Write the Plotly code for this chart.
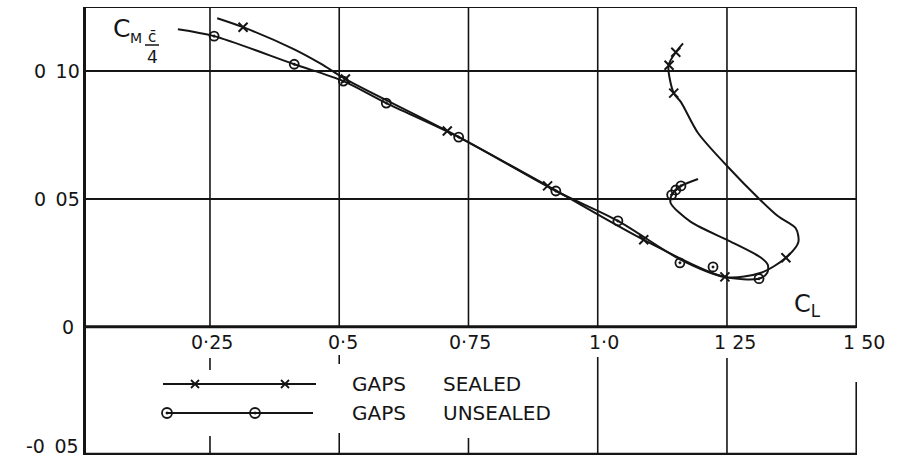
import plotly.graph_objects as go

# ---------------- data ----------------
# Gaps sealed: marked test points
sealed_cl = [0.314, 0.512, 0.709, 0.903, 1.089, 1.246, 1.364, 1.147, 1.138, 1.151]
sealed_cm = [0.1172, 0.0969, 0.0766, 0.0551, 0.0340, 0.0195, 0.0270, 0.0914, 0.1023, 0.1074]
# Gaps sealed: faired curve
sealed_curve_cl = [0.264, 0.314, 0.411, 0.465, 0.512, 0.709, 0.903, 1.089, 1.246, 1.316, 1.364,
                   1.388, 1.383, 1.349, 1.314, 1.252, 1.194, 1.161, 1.147, 1.137, 1.151, 1.165]
sealed_curve_cm = [0.1207, 0.1172, 0.1087, 0.1028, 0.0969, 0.0766, 0.0551, 0.0340, 0.0195, 0.0211, 0.0270,
                   0.0330, 0.0385, 0.0432, 0.0497, 0.0625, 0.0758, 0.0879, 0.0914, 0.1023, 0.1074, 0.1109]

# Gaps unsealed: marked test points
unsealed_cl = [0.258, 0.413, 0.508, 0.591, 0.731, 0.919, 1.039, 1.159, 1.223, 1.312, 1.143, 1.151, 1.161]
unsealed_cm = [0.1137, 0.1027, 0.0961, 0.0875, 0.0742, 0.0531, 0.0414, 0.0250, 0.0234, 0.0188,
               0.0516, 0.0535, 0.0551]
# Gaps unsealed: faired curve
unsealed_curve_cl = [0.188, 0.258, 0.413, 0.508, 0.591, 0.731, 0.919, 1.039, 1.159, 1.246, 1.312,
                     1.328, 1.329, 1.316, 1.258, 1.180, 1.141, 1.143, 1.151, 1.161, 1.194]
unsealed_curve_cm = [0.1164, 0.1137, 0.1027, 0.0961, 0.0875, 0.0742, 0.0531, 0.0414, 0.0264, 0.0194, 0.0188,
                     0.0211, 0.0242, 0.0270, 0.0332, 0.0410, 0.0484, 0.0516, 0.0535, 0.0551, 0.0578]

x_ticks = [0.25, 0.5, 0.75, 1.0, 1.25, 1.5]
x_tick_text = ["0·25", "0·5", "0·75", "1·0", "1 25", "1 50"]
y_ticks = [-0.05, 0, 0.05, 0.10]
y_tick_text = ["-0\u200205", "0", "0\u200205", "0\u200210"]

series_names = ["GAPS", "SEALED", "UNSEALED"]

# ---------------- layout geometry ----------------
W, H = 901, 459
L, R, T, B = 86, 44, 7, 4
X_RANGE = [0.0102, 1.5015]
Y_RANGE = [-0.0502, 0.1251]
INK = "#151515"
FONT = "DejaVu Sans"
PW, PH = W - L - R, H - T - B

def px2x(px):
    return X_RANGE[0] + (px - L) / PW * (X_RANGE[1] - X_RANGE[0])

def py2y(py):
    return Y_RANGE[1] - (py - T) / PH * (Y_RANGE[1] - Y_RANGE[0])

def px2p(px):
    return (px - L) / PW

def py2p(py):
    return 1 - (py - T) / PH

def y2py(yv):
    return T + (Y_RANGE[1] - yv) / (Y_RANGE[1] - Y_RANGE[0]) * PH

fig = go.Figure()

# curves
fig.add_trace(go.Scatter(x=sealed_curve_cl, y=sealed_curve_cm, mode="lines",
                         line=dict(color=INK, width=2, shape="spline", smoothing=0.8),
                         showlegend=False, hoverinfo="skip"))
fig.add_trace(go.Scatter(x=unsealed_curve_cl, y=unsealed_curve_cm, mode="lines",
                         line=dict(color=INK, width=2, shape="spline", smoothing=0.8),
                         showlegend=False, hoverinfo="skip"))
# markers
fig.add_trace(go.Scatter(x=sealed_cl, y=sealed_cm, mode="markers", name="GAPS SEALED",
                         marker=dict(symbol="x-thin-open", size=9, color=INK,
                                     line=dict(color=INK, width=2)),
                         showlegend=False))
fig.add_trace(go.Scatter(x=unsealed_cl, y=unsealed_cm, mode="markers", name="GAPS UNSEALED",
                         marker=dict(symbol="circle-open-dot", size=9, color=INK,
                                     line=dict(color=INK, width=1.8)),
                         showlegend=False))

# hand-drawn style legend in the lower panel
leg_sealed_y = py2y(384)
leg_unsealed_y = py2y(413)
fig.add_trace(go.Scatter(x=[px2x(163), px2x(316)], y=[leg_sealed_y] * 2, mode="lines",
                         line=dict(color=INK, width=1.8), showlegend=False, hoverinfo="skip"))
fig.add_trace(go.Scatter(x=[px2x(195), px2x(285)], y=[leg_sealed_y] * 2, mode="markers",
                         marker=dict(symbol="x-thin-open", size=8, color=INK,
                                     line=dict(color=INK, width=1.8)),
                         showlegend=False, hoverinfo="skip"))
fig.add_trace(go.Scatter(x=[px2x(167), px2x(313)], y=[leg_unsealed_y] * 2, mode="lines",
                         line=dict(color=INK, width=1.8), showlegend=False, hoverinfo="skip"))
fig.add_trace(go.Scatter(x=[px2x(167), px2x(255)], y=[leg_unsealed_y] * 2, mode="markers",
                         marker=dict(symbol="circle-open-dot", size=10, color=INK,
                                     line=dict(color=INK, width=1.8)),
                         showlegend=False, hoverinfo="skip"))

shapes = []
# vertical grid lines above the zero line
for xv in x_ticks:
    shapes.append(dict(type="line", x0=xv, x1=xv, y0=0, y1=Y_RANGE[1], xref="x", yref="y",
                       line=dict(color=INK, width=1.6)))
# broken vertical lines below the zero line (pixel y extents)
lower_segments = {
    0.25: [(358, 370), (436, 455)],
    0.5: [(355, 364), (433, 455)],
    0.75: [(438, 455)],
    1.0: [(357, 455)],
    1.25: [(358, 455)],
    1.5: [(382, 455)],
}
for xv, segs in lower_segments.items():
    for a, b in segs:
        shapes.append(dict(type="line", x0=xv, x1=xv, y0=py2y(a), y1=py2y(b), xref="x", yref="y",
                           line=dict(color=INK, width=1.6)))
# top border
shapes.append(dict(type="line", x0=X_RANGE[0], x1=1.5, y0=Y_RANGE[1], y1=Y_RANGE[1],
                   xref="x", yref="y", line=dict(color=INK, width=2)))
# zero line
shapes.append(dict(type="line", x0=X_RANGE[0], x1=1.5, y0=0, y1=0,
                   xref="x", yref="y", line=dict(color=INK, width=3)))
# bottom line
shapes.append(dict(type="line", x0=X_RANGE[0], x1=1.5, y0=py2y(454), y1=py2y(454),
                   xref="x", yref="y", line=dict(color=INK, width=2.5)))
# fraction bar in axis label
shapes.append(dict(type="line", x0=px2x(145), x1=px2x(159), y0=py2y(45), y1=py2y(45),
                   xref="x", yref="y", line=dict(color=INK, width=1.5)))

annotations = []

def add_text(px, py, text, size, xanchor="center", yanchor="middle"):
    annotations.append(dict(x=px2p(px), y=py2p(py), xref="paper", yref="paper", text=text,
                            showarrow=False, xanchor=xanchor, yanchor=yanchor,
                            font=dict(family=FONT, size=size, color=INK)))

# x tick labels (drawn just below the zero line)
x_label_px = [212, 343, 470, 604, 735, 864]
for txt, pxc in zip(x_tick_text, x_label_px):
    add_text(pxc, 342, txt, 19)
# y tick labels
y_label_right = [81, 76, 82, 82]
for yv, txt, pxr in zip(y_ticks, y_tick_text, y_label_right):
    pyc = min(y2py(yv), 446)
    add_text(pxr, pyc, txt, 19, xanchor="right")
# legend text
add_text(350, 384, series_names[0], 20, xanchor="left")
add_text(441, 384, series_names[1], 20, xanchor="left")
add_text(350, 413, series_names[0], 20, xanchor="left")
add_text(441, 413, series_names[2], 20, xanchor="left")
# axis labels
add_text(121, 28, "C", 25)
add_text(136, 38, "M", 14)
add_text(152, 37, "c̄", 15)
add_text(152, 57, "4", 17)
add_text(807, 305, "C<sub>L</sub>", 24)

fig.update_layout(
    width=W, height=H,
    margin=dict(l=L, r=R, t=T, b=B),
    paper_bgcolor="white", plot_bgcolor="white",
    shapes=shapes, annotations=annotations,
    showlegend=False,
    xaxis=dict(range=X_RANGE, showgrid=False, zeroline=False, showticklabels=False,
               ticks="", showline=False, fixedrange=True),
    yaxis=dict(range=Y_RANGE, tickvals=y_ticks, showgrid=True, showticklabels=False,
               gridcolor=INK, gridwidth=1.6, zeroline=False, ticks="",
               showline=True, linecolor=INK, linewidth=3, automargin=False,
               fixedrange=True),
)

fig.write_html("out.html", config={"displayModeBar": False},
               post_script="document.body.style.margin='0px';document.body.style.overflow='hidden';")
